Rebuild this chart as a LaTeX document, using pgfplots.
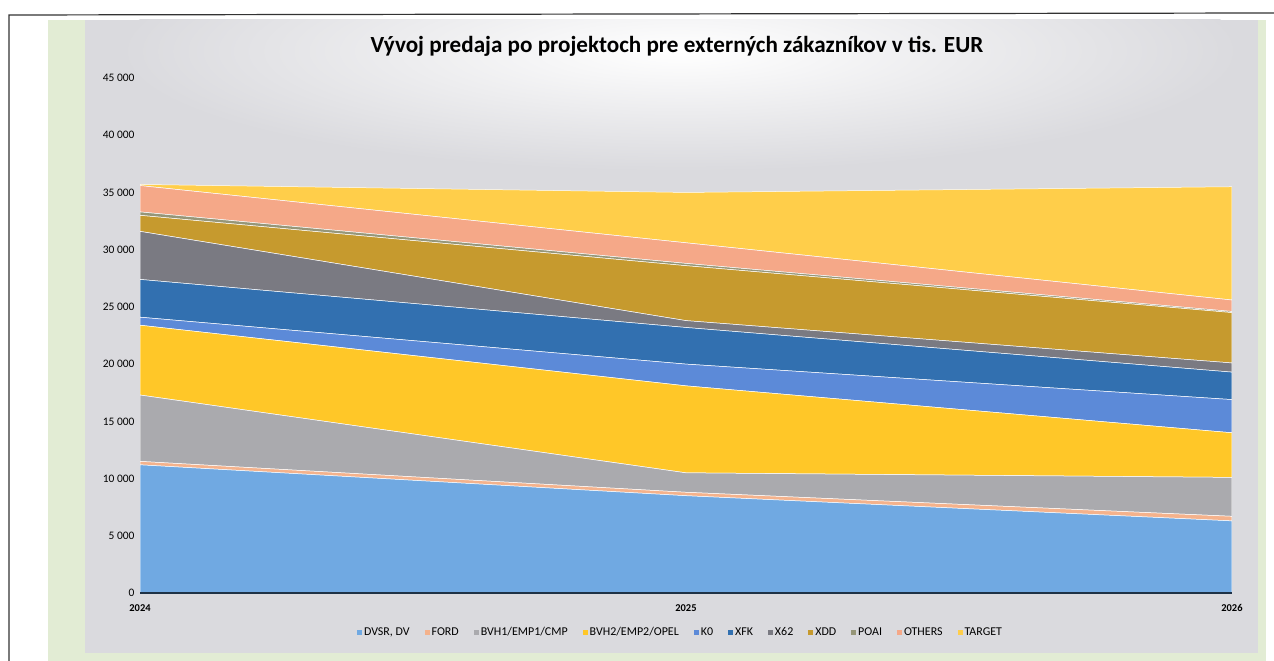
\documentclass[border=0pt]{standalone}
\usepackage{pgfplots}
\pgfplotsset{compat=1.18}
\usepackage{fontspec}
\setmainfont{Carlito}
\definecolor{cDV}{RGB}{112,169,226}
\definecolor{cFORD}{RGB}{244,178,140}
\definecolor{cBVH1}{RGB}{170,170,174}
\definecolor{cBVH2}{RGB}{255,199,40}
\definecolor{cK0}{RGB}{92,138,216}
\definecolor{cXFK}{RGB}{50,112,176}
\definecolor{cX62}{RGB}{122,122,130}
\definecolor{cXDD}{RGB}{198,154,46}
\definecolor{cPOAI}{RGB}{150,150,120}
\definecolor{cOTH}{RGB}{245,168,136}
\definecolor{cTGT}{RGB}{255,206,74}
\definecolor{bggray}{RGB}{218,218,222}
\definecolor{bggreen}{RGB}{226,236,212}
\begin{document}
\begin{tikzpicture}
\useasboundingbox (0bp,0bp) rectangle (1274bp,661bp);
\fill[white] (0bp,0bp) rectangle (1274bp,661bp);
\fill[bggreen] (48bp,0bp) rectangle (1266bp,641bp);
\fill[bggray] (85bp,8bp) rectangle (1258bp,641bp);
\begin{scope}
\clip (85bp,8bp) rectangle (1258bp,641bp);
\shade[inner color=white, outer color=bggray] (680bp,610bp) ellipse (560bp and 120bp);
\end{scope}
\draw[black!80, line width=1.2bp] (9bp,0bp) -- (9bp,646bp) -- (1274bp,648bp);
\node[font=\bfseries\fontsize{23.2}{27}\selectfont, text=black] at (677bp,615bp) {Vývoj predaja po projektoch pre externých zákazníkov v tis. EUR};
\begin{axis}[
  at={(140bp,68bp)}, anchor=south west,
  scale only axis, width=1092bp, height=515bp,
  xmin=0, xmax=2, ymin=0, ymax=45000,
  stack plots=y, area style,
  axis lines*=left,
  y axis line style={draw=none},
  x axis line style={-, line width=1.6bp, color={rgb,255:red,30;green,50;blue,70}},
  major tick length=0pt,
  xtick={0,1,2}, xticklabels={2024,2025,2026},
  xticklabel style={font=\bfseries\fontsize{10.5}{12}\selectfont, yshift=-8bp},
  ytick={0,5000,...,45000},
  yticklabels={0,5 000,10 000,15 000,20 000,25 000,30 000,35 000,40 000,45 000},
  yticklabel style={font=\fontsize{11.5}{13}\selectfont, xshift=-2bp},
  scaled y ticks=false,
  every axis plot/.append style={draw=white, line width=0.5bp},
  legend style={at={(0.495,-0.076)}, anchor=center, draw=none, fill=none,
    font=\fontsize{12}{14}\selectfont, legend columns=11,
    /tikz/every even column/.append style={column sep=13bp}},
  legend image code/.code={\fill[#1, draw=none] (0bp,-2.5bp) rectangle (5bp,2.5bp);},
]
\addplot[fill=cDV] coordinates {(0,11200) (1,8500) (2,6300)} \closedcycle;
\addlegendentry{DVSR, DV}
\addplot[fill=cFORD] coordinates {(0,300) (1,300) (2,400)} \closedcycle;
\addlegendentry{FORD}
\addplot[fill=cBVH1] coordinates {(0,5800) (1,1700) (2,3400)} \closedcycle;
\addlegendentry{BVH1/EMP1/CMP}
\addplot[fill=cBVH2] coordinates {(0,6100) (1,7600) (2,3900)} \closedcycle;
\addlegendentry{BVH2/EMP2/OPEL}
\addplot[fill=cK0] coordinates {(0,700) (1,1900) (2,2900)} \closedcycle;
\addlegendentry{K0}
\addplot[fill=cXFK] coordinates {(0,3300) (1,3200) (2,2400)} \closedcycle;
\addlegendentry{XFK}
\addplot[fill=cX62] coordinates {(0,4200) (1,600) (2,800)} \closedcycle;
\addlegendentry{X62}
\addplot[fill=cXDD] coordinates {(0,1400) (1,4800) (2,4400)} \closedcycle;
\addlegendentry{XDD}
\addplot[fill=cPOAI] coordinates {(0,300) (1,200) (2,100)} \closedcycle;
\addlegendentry{POAI}
\addplot[fill=cOTH] coordinates {(0,2300) (1,1800) (2,1000)} \closedcycle;
\addlegendentry{OTHERS}
\addplot[fill=cTGT] coordinates {(0,100) (1,4400) (2,9900)} \closedcycle;
\addlegendentry{TARGET}
\end{axis}
\end{tikzpicture}
\end{document}
